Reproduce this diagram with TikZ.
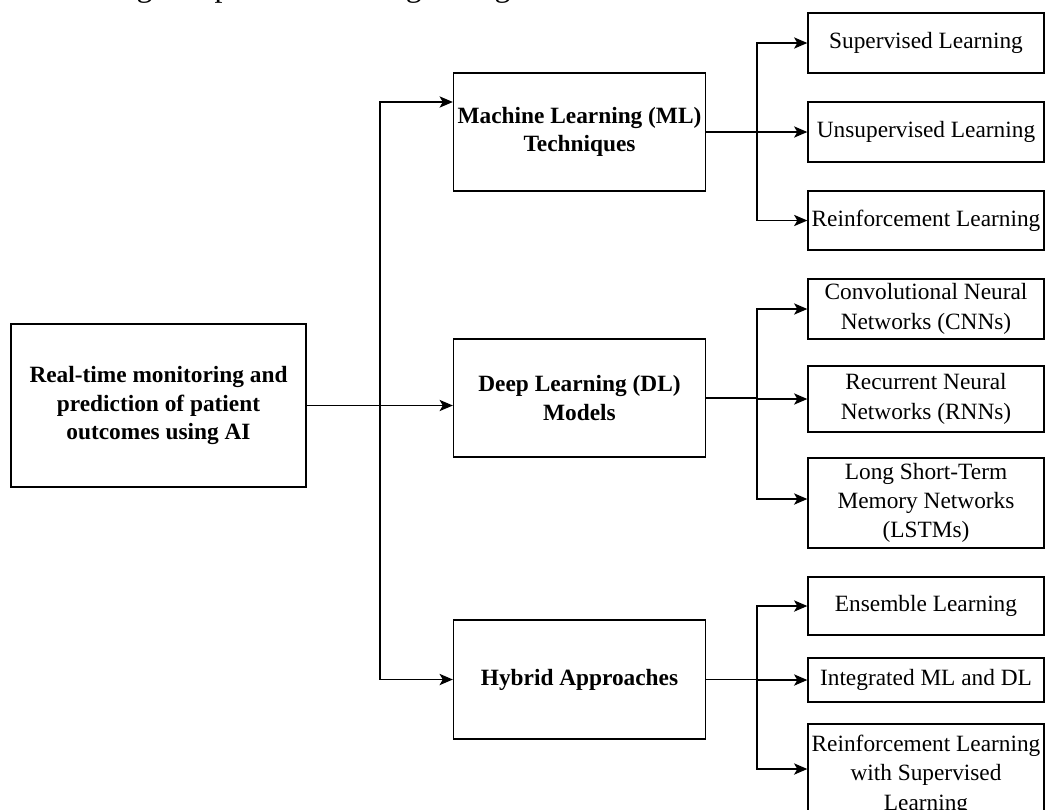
\documentclass[tikz,border=0pt]{standalone}
\usepackage{fontspec}
\setmainfont{Liberation Serif}
\usetikzlibrary{arrows.meta}
\begin{document}
\begin{tikzpicture}[x=.75pt,y=-.75pt,
    box/.style={draw,line width=1pt,align=center,inner sep=1pt,
      font=\fontsize{17.5}{22}\selectfont},
    mainbox/.style={box,minimum width=189pt,minimum height=88.5pt,
      font=\fontsize{17.5}{21.2}\selectfont\bfseries},
    leaf/.style={box,minimum width=177pt},
    link/.style={line width=.9pt},
    arr/.style={link,-{Stealth[length=10pt,width=8.5pt,inset=2.5pt]}}]
  \useasboundingbox (0,0) rectangle (1046,810);
  \clip (0,0) rectangle (1046,810);
  \node[anchor=base west,inner sep=0,font=\fontsize{24}{28}\selectfont] (cap) at (10,-3)
    {monitoring and prediction using AI algorithms.};
  \node[mainbox,minimum width=221.25pt,minimum height=122.25pt] (root) at (158.5,405.5)
    {Real-time monitoring and\\prediction of patient\\outcomes using AI};
  \node[mainbox] (ml) at (579.5,132) {Machine Learning (ML)\\Techniques};
  \node[mainbox] (dl) at (579.5,398) {Deep Learning (DL)\\Models};
  \node[mainbox,minimum height=89.25pt] (hyb) at (579.5,679.5) {Hybrid Approaches};
  \node[leaf,minimum height=45pt] (sup) at (926,43) {Supervised Learning};
  \node[leaf,minimum height=45pt] (uns) at (926,132) {Unsupervised Learning};
  \node[leaf,minimum height=44.25pt] (rein) at (926,220.5) {Reinforcement Learning};
  \node[leaf,minimum height=45pt] (cnn) at (926,309) {Convolutional Neural\\Networks (CNNs)};
  \node[leaf,minimum height=49.5pt] (rnn) at (926,399) {Recurrent Neural\\Networks (RNNs)};
  \node[leaf,minimum height=67.5pt] (lstm) at (926,503) {Long Short-Term\\Memory Networks\\(LSTMs)};
  \node[leaf,minimum height=43.5pt] (ens) at (926,606) {Ensemble Learning};
  \node[leaf,minimum height=33pt] (intg) at (926,680) {Integrated ML and DL};
  \node[leaf,minimum height=76.5pt] (rlsl) at (926,775) {Reinforcement Learning\\with Supervised\\Learning};
  \coordinate (trunk) at (380,405.5);
  \coordinate (mlfork) at (757,132);
  \coordinate (dlfork) at (757,398);
  \coordinate (hybfork) at (757,679.5);
  \draw[arr] (root.east) -- (dl.west |- root.east);
  \draw[arr] (trunk) |- ([yshift=22.5pt]ml.west);
  \draw[arr] (trunk) |- (hyb.west);
  \draw[link] (ml.east) -- (mlfork);
  \draw[arr] (mlfork) |- (sup.west);
  \draw[arr] (mlfork) -- (uns.west);
  \draw[arr] (mlfork) |- (rein.west);
  \draw[link] (dl.east) -- (dlfork);
  \draw[arr] (dlfork) |- (cnn.west);
  \draw[arr] (dlfork) |- (rnn.west);
  \draw[arr] (dlfork) |- ([yshift=3pt]lstm.west);
  \draw[link] (hyb.east) -- (hybfork);
  \draw[arr] (hybfork) |- (ens.west);
  \draw[arr] (hybfork) |- (intg.west);
  \draw[arr] (hybfork) |- ([yshift=4.5pt]rlsl.west);
\end{tikzpicture}
\end{document}
